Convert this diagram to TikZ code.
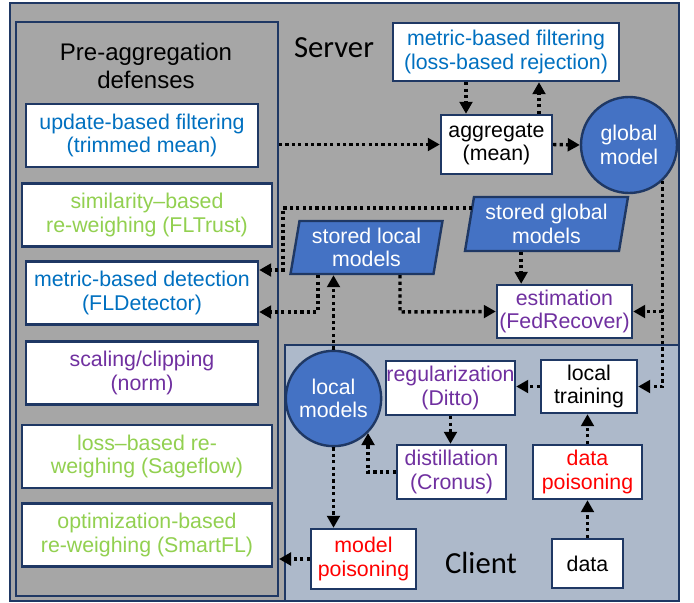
\documentclass[tikz,border=0pt]{standalone}
\usepackage{fontspec}
\setmainfont{Liberation Sans}
\newfontfamily\calib{Carlito}
\usetikzlibrary{
arrows.meta,
shapes.geometric % stored models
}
\definecolor{navy}{HTML}{1F3864}
\definecolor{srvgray}{HTML}{A6A6A6}
\definecolor{cligray}{HTML}{ADB9CA}
\definecolor{modblue}{HTML}{4472C4}
\definecolor{txtblue}{HTML}{0070C0}
\definecolor{txtgreen}{HTML}{92D050}
\definecolor{txtpurple}{HTML}{7030A0}

\begin{document}
\begin{tikzpicture}[x=0.75pt, y=-0.75pt,
    >={Triangle[width=9.5pt,length=9pt]},
    flow/.style={->, line width=2.6pt, dash pattern=on 2.4pt off 2.4pt},
    panel/.style={draw=navy, line width=1.5pt},
    base/.style={draw=navy, line width=1.8pt, fill=white, align=center, inner sep=0pt,
      font=\fontsize{16}{17.5}\selectfont},
    defn/.style={base, minimum width=174pt, minimum height=47pt},
    defw/.style={base, minimum width=187.5pt, minimum height=47.5pt},
    model/.style={circle, draw=navy, line width=1.8pt, fill=modblue, text=white, align=center,
      inner sep=0pt, minimum size=71.5pt, font=\fontsize{16}{17.5}\selectfont},
    store/.style={trapezium, trapezium left angle=77, trapezium right angle=103,
      trapezium stretches body, draw=navy, line width=1.8pt, fill=modblue, text=white,
      align=center, inner sep=0pt, font=\fontsize{16}{17.5}\selectfont}]
  \useasboundingbox (0,0) rectangle (694,603);
  % regions
  \draw[panel, fill=srvgray] (10,3) rectangle (679,601);
  \draw[panel, fill=cligray] (285,345) rectangle (679,601);
  \node[panel, minimum width=196.5pt, minimum height=430.5pt] (preagg) at (147,309) {};
  \node[align=center, font=\fontsize{18}{21}\selectfont] (pretitle) at (146,66) {Pre-aggregation\\defenses};
  \node[font=\calib\fontsize{23}{26}\selectfont] (server) at (334,48) {Server};
  \node[font=\calib\fontsize{23}{26}\selectfont] (client) at (481,563) {Client};

  % pre-aggregation defenses
  \node[defn, text=txtblue] (upd) at (142,135.5) {update-based filtering\\(trimmed mean)};
  \node[defw, text=txtgreen] (sim) at (147,215) {similarity–based\\re-weighing (FLTrust)};
  \node[defn, text=txtblue] (mdet) at (142,293) {metric-based detection\\(FLDetector)};
  \node[defn, text=txtpurple] (scal) at (142,373) {scaling/clipping\\(norm)};
  \node[defw, text=txtgreen] (loss) at (147,456.5) {loss–based re-\\weighing (Sageflow)};
  \node[defw, text=txtgreen] (opt) at (147,535) {optimization-based\\re-weighing (SmartFL)};

  % server
  \node[base, text=txtblue, minimum width=169.5pt, minimum height=43.5pt] (mfilt) at (506,52) {metric-based filtering\\(loss-based rejection)};
  \node[base, minimum width=83.25pt, minimum height=44.25pt] (agg) at (496.5,144.5) {aggregate\\(mean)};
  \node[model, minimum size=72pt] (glob) at (629,145) {global\\model};
  \node[store, minimum width=122.25pt, minimum height=40.5pt] (sglob) at (546.5,224) {stored global\\models};
  \node[store, minimum width=114pt, minimum height=39.75pt] (sloc) at (366.5,247.5) {stored local\\models};
  \node[base, text=txtpurple, minimum width=101.25pt, minimum height=39.75pt] (est) at (564.5,311.5) {estimation\\(FedRecover)};

  % client
  \node[model] (lmod) at (333.5,398.5) {local\\models};
  \node[base, text=txtpurple, minimum width=96.75pt, minimum height=40.5pt] (reg) at (450.5,388) {regularization\\(Ditto)};
  \node[base, minimum width=72pt, minimum height=39.75pt] (train) at (589,386.5) {local\\training};
  \node[base, text=txtpurple, minimum width=81.75pt, minimum height=40.5pt] (dist) at (451.5,472) {distillation\\(Cronus)};
  \node[base, text=red, minimum width=81.75pt, minimum height=40.5pt] (dpois) at (587.5,472) {data\\poisoning};
  \node[base, text=red, minimum width=78.75pt, minimum height=45pt] (mpois) at (363.5,559) {model\\poisoning};
  \node[base, minimum width=53.25pt, minimum height=36.75pt] (data) at (587.5,563.5) {data};

  \coordinate (k1) at (283,270);
  \coordinate (k2) at (318,312);
  \coordinate (k3) at (400,312);

  \draw[flow] (agg.west -| preagg.east) -- (agg.west);
  \draw[flow] ([xshift=-30pt]mfilt.south) -- ([xshift=-30pt]mfilt.south |- agg.north);
  \draw[flow] ([xshift=24.75pt]mfilt.south |- agg.north) -- ([xshift=24.75pt]mfilt.south);
  \draw[flow] (agg.east) -- (glob.west);
  \draw[flow] (glob.-47) |- (train.east);
  \draw[flow] (glob.-47 |- est.east) -- (est.east);
  \draw[flow] ([xshift=-19pt]sglob.south) -- ([xshift=-19pt]sglob.south |- est.north);
  \draw[flow] ([shift={(3pt,12pt)}]sglob.west) -| (k1) -- (k1 -| mdet.east);
  \draw[flow] (k2 |- sloc.south) -- (k2) -- (k2 -| mdet.east);
  \draw[flow] (k3 |- sloc.south) -- (k3) -- (est.west);
  \draw[flow] (lmod.north) -- (lmod.north |- sloc.south);
  \draw[flow] (train.west) -- (train.west -| reg.east);
  \draw[flow] (reg.south) -- (reg.south |- dist.north);
  \draw[flow] (dist.west) -| (lmod.-45);
  \draw[flow] (lmod.south) -- (lmod.south |- mpois.north);
  \draw[flow] (mpois.west) -- (mpois.west -| preagg.east);
  \draw[flow] (dpois.north) -- (dpois.north |- train.south);
  \draw[flow] (data) -- (dpois);
\end{tikzpicture}
\end{document}
